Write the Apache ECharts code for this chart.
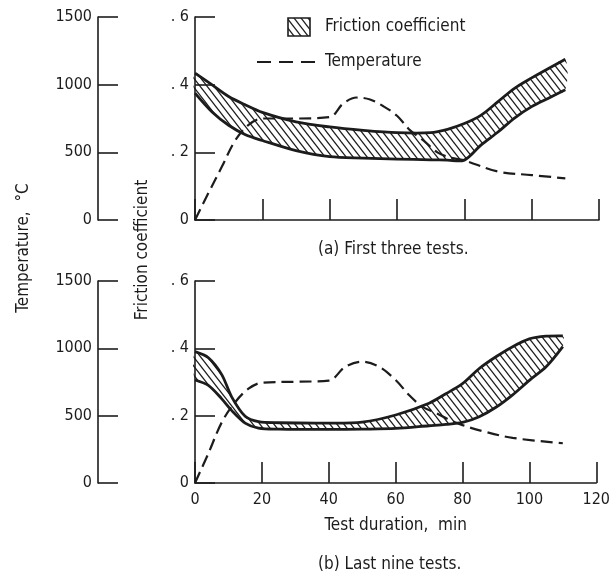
<!DOCTYPE html>
<html>
<head>
<meta charset="utf-8">
<title>Friction coefficient and temperature vs test duration</title>
<script src="https://cdn.jsdelivr.net/npm/echarts@6/dist/echarts.min.js"></script>
<style>
  html, body { margin: 0; padding: 0; background: #fff; }
  #chart { width: 613px; height: 578px; }
</style>
</head>
<body>
<div id="chart"></div>
<script>
// ---- data ----
// (a) first three tests
const bandTimeA = [0, 5, 10, 15, 20, 30, 40, 50, 60, 70, 75, 80, 85, 90, 95, 100, 105, 110];
const frictionUpperA = [0.434, 0.40, 0.365, 0.34, 0.318, 0.29, 0.275, 0.265, 0.258, 0.258, 0.268, 0.285, 0.31, 0.35, 0.39, 0.42, 0.448, 0.475];
const frictionLowerA = [0.375, 0.32, 0.28, 0.252, 0.235, 0.205, 0.187, 0.183, 0.18, 0.178, 0.177, 0.177, 0.222, 0.26, 0.302, 0.335, 0.36, 0.385];
const tempTimeA = [0, 4, 8, 12, 16, 20, 30, 40, 44, 48, 52, 56, 60, 64, 68, 72, 76, 80, 90, 100, 110];
const temperatureA = [0, 200, 395, 590, 705, 750, 750, 760, 860, 905, 890, 840, 770, 660, 585, 500, 460, 440, 358, 332, 308];

// (b) last nine tests
const bandTimeB = [0, 4, 8, 11, 15, 19, 25, 40, 50, 60, 70, 75, 80, 85, 90, 95, 100, 105, 110];
const frictionUpperB = [0.39, 0.372, 0.322, 0.255, 0.198, 0.182, 0.179, 0.178, 0.181, 0.202, 0.237, 0.265, 0.295, 0.34, 0.375, 0.405, 0.428, 0.436, 0.437];
const frictionLowerB = [0.306, 0.29, 0.25, 0.215, 0.178, 0.163, 0.16, 0.159, 0.16, 0.162, 0.17, 0.174, 0.18, 0.197, 0.225, 0.262, 0.305, 0.345, 0.405];
const tempTimeB = [0, 4, 8, 12, 16, 20, 30, 40, 45, 50, 55, 60, 64, 68, 72, 76, 80, 86, 95, 110];
const temperatureB = [0, 220, 450, 600, 700, 745, 752, 760, 864, 901, 864, 765, 653, 567, 520, 470, 430, 385, 335, 295];

const durationTicks = [0, 20, 40, 60, 80, 100, 120];
const frictionTicks = [0, 0.2, 0.4, 0.6];
const temperatureTicks = [0, 500, 1000, 1500];

const ink = '#1c1c1c';
const font = '"DejaVu Sans Condensed", "Liberation Sans Narrow", Roboto, sans-serif';

// diagonal hatch used for the friction band
function makeHatch() {
    const w = 7, h = 9;
    const c = document.createElement('canvas');
    c.width = w; c.height = h;
    const ctx = c.getContext('2d');
    ctx.strokeStyle = ink;
    ctx.lineWidth = 1.3;
    for (let k = -1; k <= 1; k++) {
        ctx.beginPath();
        ctx.moveTo(k * w - 2 * w / h, -2);
        ctx.lineTo(k * w + w + 2 * w / h, h + 2);
        ctx.stroke();
    }
    return c;
}
const hatch = makeHatch();
const hatchUrl = hatch.toDataURL();

const pairs = (xs, ys) => xs.map((x, i) => [x, ys[i]]);

function xAxisFor(grid, showLabels) {
    return {
        type: 'value', gridIndex: grid, min: 0, max: 120, interval: 20,
        axisLine: { show: true, lineStyle: { color: ink, width: 1.6 } },
        axisTick: { show: true, inside: true, length: 21, lineStyle: { color: ink, width: 1.6 } },
        axisLabel: {
            show: showLabels, margin: 9, color: ink, fontSize: 16, fontFamily: font,
            formatter: (v) => durationTicks.includes(v) ? String(v) : ''
        },
        splitLine: { show: false },
        name: showLabels ? 'Test duration,  min' : '',
        nameLocation: 'middle', nameGap: 34,
        nameTextStyle: { color: ink, fontSize: 17, fontFamily: font }
    };
}

function frictionAxis(grid) {
    return {
        type: 'value', gridIndex: grid, min: 0, max: 0.6, interval: 0.2, position: 'left',
        axisLine: { show: true, lineStyle: { color: ink, width: 1.6 } },
        axisTick: { show: true, inside: true, length: 20, lineStyle: { color: ink, width: 1.6 } },
        axisLabel: {
            margin: 6, color: ink, fontSize: 16, fontFamily: font,
            formatter: (v) => {
                const t = frictionTicks.find((f) => Math.abs(f - v) < 1e-6);
                if (t === undefined) return '';
                return t === 0 ? '0' : '. ' + Math.round(t * 10);
            }
        },
        splitLine: { show: false }
    };
}

function temperatureAxis(grid) {
    return {
        type: 'value', gridIndex: grid, min: 0, max: 1500, interval: 500, position: 'left', offset: 97,
        axisLine: { show: true, lineStyle: { color: ink, width: 1.6 } },
        axisTick: { show: true, inside: true, length: 20, lineStyle: { color: ink, width: 1.6 } },
        axisLabel: {
            margin: 6, color: ink, fontSize: 16, fontFamily: font,
            formatter: (v) => temperatureTicks.includes(v) ? String(v) : ''
        },
        splitLine: { show: false }
    };
}

// hatched friction band: one custom item draws the whole outline
function bandSeries(name, axisIdx, times, upper, lower) {
    return {
        name: name, type: 'custom', coordinateSystem: 'cartesian2d',
        xAxisIndex: axisIdx, yAxisIndex: axisIdx * 2,
        data: times.map((t, i) => [t, upper[i], lower[i]]),
        encode: { x: 0, y: [1, 2] },
        z: 3,
        renderItem: (params, api) => {
            if (params.dataIndex !== 0) return null;
            const top = times.map((t, i) => api.coord([t, upper[i]]));
            const bottom = times.map((t, i) => api.coord([t, lower[i]]));
            return {
                type: 'group',
                children: [
                    { type: 'polygon', shape: { points: top.concat(bottom.slice().reverse()), smooth: 0.3 },
                      style: { fill: { image: hatch, repeat: 'repeat' }, stroke: null } },
                    { type: 'polyline', shape: { points: top, smooth: 0.3 },
                      style: { fill: null, stroke: ink, lineWidth: 2.8 } },
                    { type: 'polyline', shape: { points: bottom, smooth: 0.3 },
                      style: { fill: null, stroke: ink, lineWidth: 2.8 } }
                ]
            };
        }
    };
}

function tempSeries(axisIdx, times, temps) {
    return {
        name: 'Temperature', type: 'line', xAxisIndex: axisIdx, yAxisIndex: axisIdx * 2 + 1,
        smooth: 0.35, symbol: 'none',
        lineStyle: { color: ink, width: 2.2, type: [12, 6] },
        data: pairs(times, temps), z: 4
    };
}

const chart = echarts.init(document.getElementById('chart'), null, { renderer: 'canvas' });

chart.setOption({
    animation: false,
    backgroundColor: '#fff',
    grid: [
        { left: 195, top: 17, width: 404, height: 203 },
        { left: 195, top: 281, width: 405, height: 202 }
    ],
    xAxis: [xAxisFor(0, false), xAxisFor(1, true)],
    yAxis: [frictionAxis(0), temperatureAxis(0), frictionAxis(1), temperatureAxis(1)],
    series: [
        bandSeries('Friction coefficient (a)', 0, bandTimeA, frictionUpperA, frictionLowerA),
        tempSeries(0, tempTimeA, temperatureA),
        bandSeries('Friction coefficient (b)', 1, bandTimeB, frictionUpperB, frictionLowerB),
        tempSeries(1, tempTimeB, temperatureB)
    ],
    graphic: [
        // legend
        { type: 'rect', shape: { x: 288, y: 18, width: 22, height: 18 },
          style: { fill: { image: hatchUrl, repeat: 'repeat' }, stroke: ink, lineWidth: 1.6 } },
        { type: 'text', x: 325, y: 27,
          style: { text: 'Friction coefficient', fill: ink, font: '17px ' + font, textVerticalAlign: 'middle' } },
        { type: 'line', shape: { x1: 257, y1: 62, x2: 316, y2: 62 },
          style: { stroke: ink, lineWidth: 2.2, lineDash: [14, 8] } },
        { type: 'text', x: 325, y: 62,
          style: { text: 'Temperature', fill: ink, font: '17px ' + font, textVerticalAlign: 'middle' } },
        // shared axis titles
        { type: 'text', x: 24, y: 248, rotation: Math.PI / 2,
          style: { text: 'Temperature,  °C', fill: ink, font: '17px ' + font, textAlign: 'center', textVerticalAlign: 'middle' } },
        { type: 'text', x: 143, y: 250, rotation: Math.PI / 2,
          style: { text: 'Friction coefficient', fill: ink, font: '17px ' + font, textAlign: 'center', textVerticalAlign: 'middle' } },
        // panel captions
        { type: 'text', x: 318, y: 250,
          style: { text: '(a) First three tests.', fill: ink, font: '17px ' + font, textVerticalAlign: 'middle' } },
        { type: 'text', x: 318, y: 565,
          style: { text: '(b) Last nine tests.', fill: ink, font: '17px ' + font, textVerticalAlign: 'middle' } }
    ]
});
</script>
</body>
</html>
